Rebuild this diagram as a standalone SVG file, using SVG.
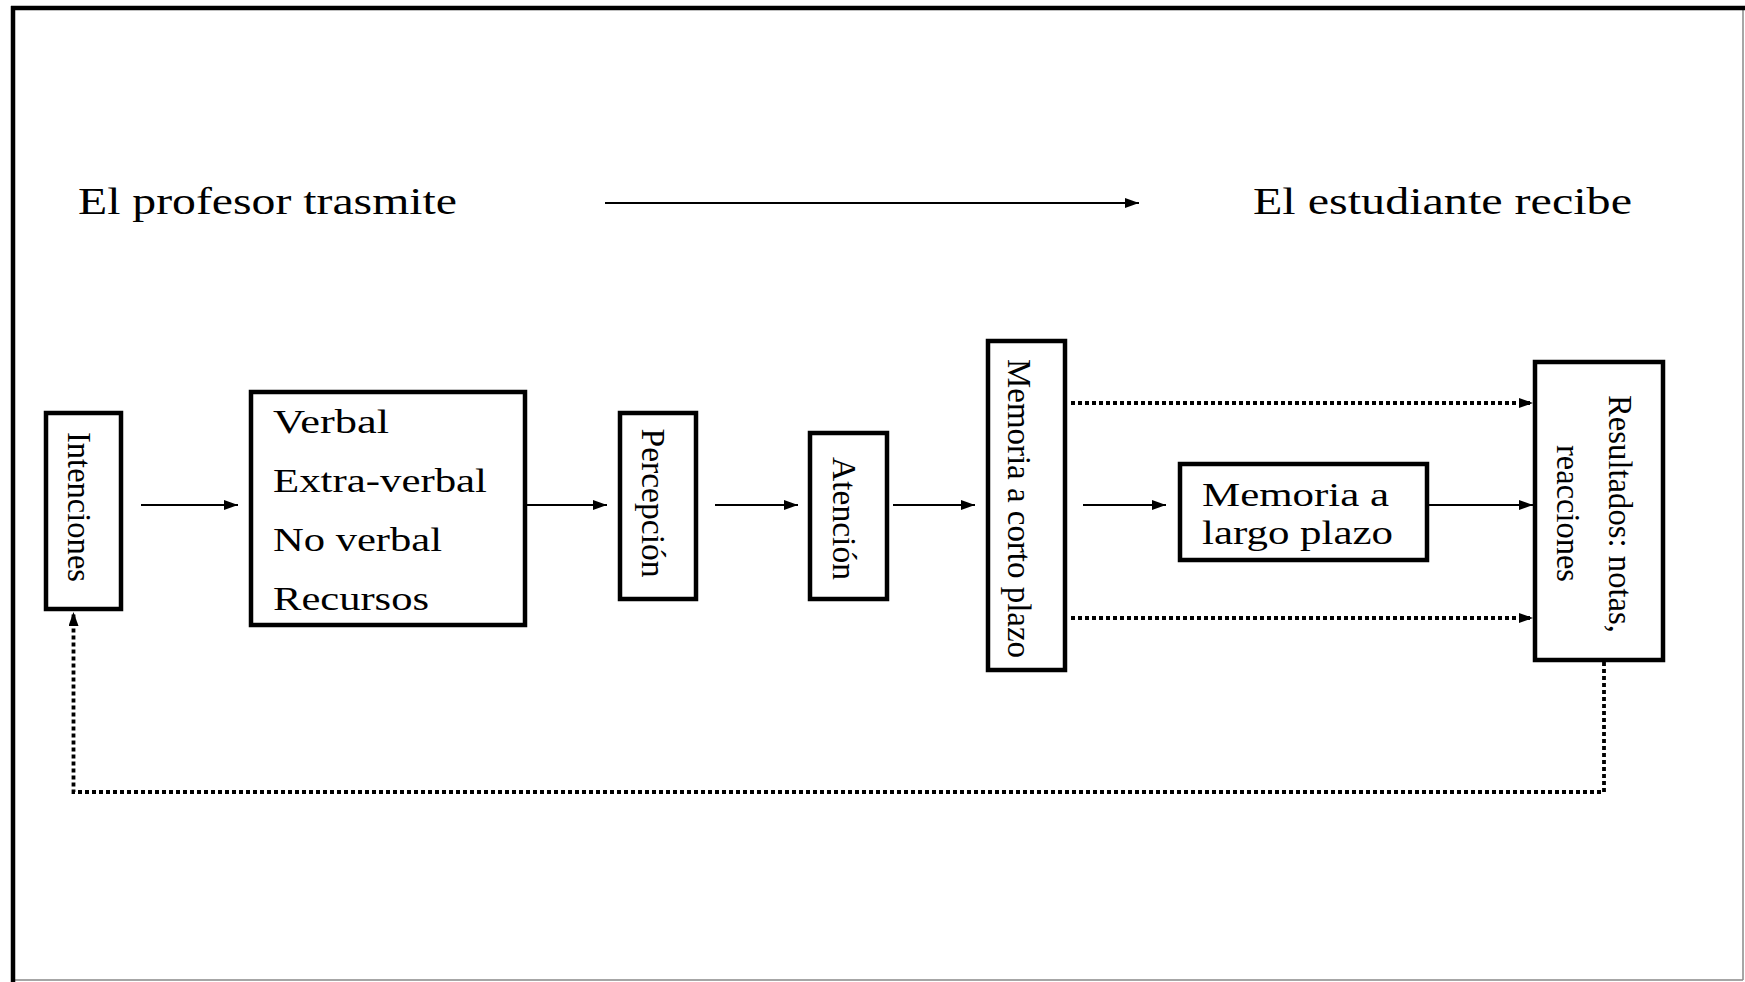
<svg xmlns="http://www.w3.org/2000/svg" width="1745" height="982" viewBox="0 0 1745 982">
<style>
.t{font-family:"Liberation Serif","Times New Roman",serif;fill:#000}
.box{fill:#fff;stroke:#000;stroke-width:4.5}
.ln{fill:none;stroke:#000;stroke-width:1.8}
.dot{fill:none;stroke:#000;stroke-width:3.8;stroke-dasharray:4 3}
</style>
<defs>
<marker id="ah" markerUnits="userSpaceOnUse" markerWidth="15" markerHeight="11" refX="14" refY="5" orient="auto">
<path d="M0,0 L14,5 L0,10 z" fill="#000"/>
</marker>
</defs>
<rect x="0" y="0" width="1745" height="982" fill="#fff"/>
<g id="frame">
<line x1="1743" y1="8" x2="1743" y2="980" stroke="#888" stroke-width="1.5"/>
<line x1="13" y1="980" x2="1743" y2="980" stroke="#888" stroke-width="1.5"/>
<line x1="11" y1="8" x2="1745" y2="8" stroke="#000" stroke-width="4.5"/>
<line x1="13" y1="6" x2="13" y2="982" stroke="#000" stroke-width="4.5"/>
</g>
<g id="header">
<text class="t" x="78" y="214" font-size="37" textLength="379" lengthAdjust="spacingAndGlyphs">El profesor trasmite</text>
<text class="t" x="1253" y="214" font-size="37" textLength="379" lengthAdjust="spacingAndGlyphs">El estudiante recibe</text>
</g>
<g id="connectors">
<line class="ln" x1="605" y1="203" x2="1139" y2="203" marker-end="url(#ah)"/>
<line class="ln" x1="141" y1="505" x2="238" y2="505" marker-end="url(#ah)"/>
<line class="ln" x1="527" y1="505" x2="607" y2="505" marker-end="url(#ah)"/>
<line class="ln" x1="715" y1="505" x2="798" y2="505" marker-end="url(#ah)"/>
<line class="ln" x1="893" y1="505" x2="975" y2="505" marker-end="url(#ah)"/>
<line class="ln" x1="1083" y1="505" x2="1166" y2="505" marker-end="url(#ah)"/>
<line class="ln" x1="1428" y1="505" x2="1533" y2="505" marker-end="url(#ah)"/>
<line class="dot" x1="1071" y1="403" x2="1533" y2="403" marker-end="url(#ah)"/>
<line class="dot" x1="1071" y1="618" x2="1533" y2="618" marker-end="url(#ah)"/>
<polyline class="dot" points="1604,662 1604,792 73.5,792 73.5,612" marker-end="url(#ah)"/>
</g>
<g id="intenciones">
<rect class="box" x="46" y="413" width="75" height="196"/>
<text class="t" font-size="33" text-anchor="middle" textLength="150" lengthAdjust="spacingAndGlyphs" transform="translate(68,507) rotate(90)">Intenciones</text>
</g>
<g id="mensaje">
<rect class="box" x="251" y="392" width="274" height="233"/>
<text class="t" x="273" y="433" font-size="33" textLength="116" lengthAdjust="spacingAndGlyphs">Verbal</text>
<text class="t" x="273" y="492" font-size="33" textLength="214" lengthAdjust="spacingAndGlyphs">Extra-verbal</text>
<text class="t" x="273" y="551" font-size="33" textLength="169" lengthAdjust="spacingAndGlyphs">No verbal</text>
<text class="t" x="273" y="610" font-size="33" textLength="156" lengthAdjust="spacingAndGlyphs">Recursos</text>
</g>
<g id="percepcion">
<rect class="box" x="620" y="413" width="76" height="186"/>
<text class="t" font-size="33" text-anchor="middle" textLength="149" lengthAdjust="spacingAndGlyphs" transform="translate(642,503) rotate(90)">Percepción</text>
</g>
<g id="atencion">
<rect class="box" x="810" y="433" width="77" height="166"/>
<text class="t" font-size="33" text-anchor="middle" textLength="123" lengthAdjust="spacingAndGlyphs" transform="translate(833,518.5) rotate(90)">Atención</text>
</g>
<g id="memoria-corto">
<rect class="box" x="988" y="341" width="77" height="329"/>
<text class="t" font-size="33" text-anchor="middle" textLength="299" lengthAdjust="spacingAndGlyphs" transform="translate(1008,508.5) rotate(90)">Memoria a corto plazo</text>
</g>
<g id="memoria-largo">
<rect class="box" x="1180" y="464" width="247" height="96"/>
<text class="t" x="1202" y="506" font-size="33" textLength="187" lengthAdjust="spacingAndGlyphs">Memoria a</text>
<text class="t" x="1202" y="544" font-size="33" textLength="191" lengthAdjust="spacingAndGlyphs">largo plazo</text>
</g>
<g id="resultados">
<rect class="box" x="1535" y="362" width="128" height="298"/>
<text class="t" font-size="33" text-anchor="middle" textLength="238" lengthAdjust="spacingAndGlyphs" transform="translate(1609,514) rotate(90)">Resultados: notas,</text>
<text class="t" font-size="33" text-anchor="middle" textLength="137" lengthAdjust="spacingAndGlyphs" transform="translate(1557,513.5) rotate(90)">reacciones</text>
</g>
</svg>
